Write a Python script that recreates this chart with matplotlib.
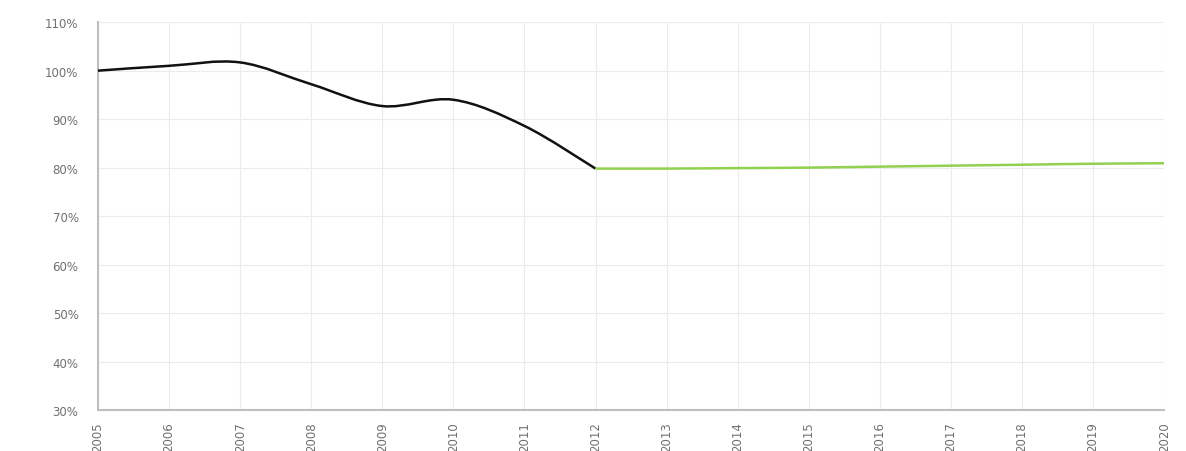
import matplotlib
matplotlib.use("Agg")
import matplotlib.pyplot as plt
from matplotlib.path import Path
from matplotlib.patches import PathPatch
from matplotlib.ticker import FuncFormatter

# data (share of 2005 level, %)
hist_years = [2005, 2006, 2007, 2008, 2009, 2010, 2011, 2012]
hist_vals = [100.0, 101.0, 101.7, 97.2, 92.7, 94.0, 88.6, 79.8]
proj_years = [2012, 2013, 2014, 2015, 2016, 2017, 2018, 2019, 2020]
proj_vals = [79.8, 79.8, 79.9, 80.0, 80.2, 80.4, 80.6, 80.8, 80.9]


def smooth_path(xs, ys, k=1/6):
    # Excel-style smoothed line: bezier segments through the points
    verts = [(xs[0], ys[0])]
    codes = [Path.MOVETO]
    n = len(xs)
    for i in range(n - 1):
        x0, y0 = xs[max(i - 1, 0)], ys[max(i - 1, 0)]
        x1, y1 = xs[i], ys[i]
        x2, y2 = xs[i + 1], ys[i + 1]
        x3, y3 = xs[min(i + 2, n - 1)], ys[min(i + 2, n - 1)]
        c1 = (x1 + (x2 - x0) * k, y1 + (y2 - y0) * k)
        c2 = (x2 - (x3 - x1) * k, y2 - (y3 - y1) * k)
        verts += [c1, c2, (x2, y2)]
        codes += [Path.CURVE4] * 3
    return Path(verts, codes)


fig = plt.figure(figsize=(11.86, 4.52), dpi=100)
ax = fig.add_axes([0.0826, 0.0907, 0.899, 0.858])

ax.add_patch(PathPatch(smooth_path(hist_years, hist_vals), fill=False,
                       edgecolor="#111111", lw=1.8, zorder=3))
ax.add_patch(PathPatch(smooth_path(proj_years, proj_vals), fill=False,
                       edgecolor="#92d050", lw=1.8, zorder=3))

ax.set_xlim(2005, 2020)
ax.set_ylim(30, 110)
ax.set_xticks(range(2005, 2021))
ax.set_yticks(range(30, 111, 10))
ax.yaxis.set_major_formatter(FuncFormatter(lambda v, p: f"{int(v)}%"))
plt.setp(ax.get_xticklabels(), rotation=90)

ax.grid(True, color="#ebebeb", lw=0.8)
ax.set_axisbelow(True)
for s in ["top", "right"]:
    ax.spines[s].set_visible(False)
for s in ["left", "bottom"]:
    ax.spines[s].set_color("#bfbfbf")
    ax.spines[s].set_linewidth(1.5)
ax.tick_params(length=0, labelsize=8.5, colors="#707070")
ax.tick_params(axis="y", pad=14)
ax.tick_params(axis="x", pad=8)

fig.savefig("out.png", dpi=100)
